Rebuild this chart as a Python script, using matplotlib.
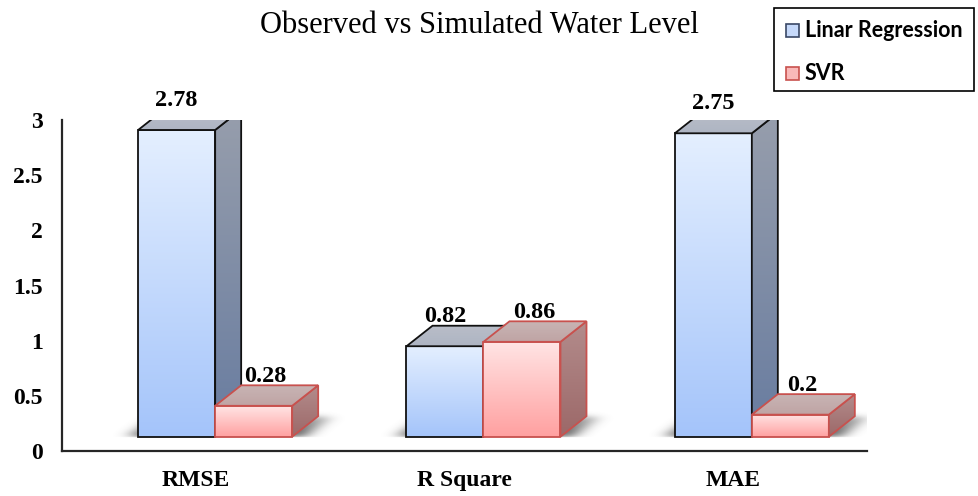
import numpy as np
import matplotlib
matplotlib.use("Agg")
import matplotlib.pyplot as plt
from matplotlib.patches import Polygon, Rectangle
from matplotlib.colors import LinearSegmentedColormap

# ---- data ----
categories = ["RMSE", "R Square", "MAE"]
series_names = ["Linar Regression", "SVR"]
linear_regression = [2.78, 0.82, 2.75]
svr = [0.28, 0.86, 0.2]
y_ticks = [0, 0.5, 1, 1.5, 2, 2.5, 3]
y_tick_labels = ["0", "0.5", "1", "1.5", "2", "2.5", "3"]

W, H = 979, 496
fig = plt.figure(figsize=(W / 100, H / 100), dpi=100)
ax_left, ax_bottom, ax_w, ax_h = 62, 45, 805, 331
ax = fig.add_axes([ax_left / W, ax_bottom / H, ax_w / W, ax_h / H])
xlim = (-0.5, 2.5)
ylim = (0, 3)

# pixel -> data unit conversions
px_x = (xlim[1] - xlim[0]) / ax_w
px_y = (ylim[1] - ylim[0]) / ax_h

bar_w = 77 * px_x
depth_x = 26 * px_x
depth_y = 20.5 * px_y
floor = 14.3 * px_y
shift = 19 * px_x

serif = "Liberation Serif"

styles = [
    dict(front=("#a4c4fa", "#e4efff"), side=("#687ca0", "#979eac"),
         top=("#aeb5c3", "#b9bdc8"), edge="#111111"),
    dict(front=("#ffa0a0", "#ffe4e4"), side=("#9c6868", "#b38c8c"),
         top=("#bfa4a4", "#c8b4b4"), edge="#c8514e"),
]

z = [2.0]


def gradient_poly(verts, bottom_color, top_color, edge):
    verts = np.asarray(verts)
    clip = Polygon(verts, closed=True, facecolor="none", edgecolor="none")
    ax.add_patch(clip)
    cmap = LinearSegmentedColormap.from_list("g", [bottom_color, top_color])
    im = ax.imshow(np.linspace(0, 1, 256)[:, None], cmap=cmap, origin="lower",
                   extent=[verts[:, 0].min(), verts[:, 0].max(),
                           verts[:, 1].min(), verts[:, 1].max()],
                   aspect="auto", interpolation="bilinear", zorder=z[0])
    im.set_clip_path(clip)
    ax.add_patch(Polygon(verts, closed=True, fill=False, edgecolor=edge,
                         linewidth=1.3, joinstyle="miter", zorder=z[0] + 0.05))
    z[0] += 0.1


def bar3d(x0, h, st):
    b = floor
    t = floor + h
    front = [(x0, b), (x0 + bar_w, b), (x0 + bar_w, t), (x0, t)]
    side = [(x0 + bar_w, b), (x0 + bar_w + depth_x, b + depth_y),
            (x0 + bar_w + depth_x, t + depth_y), (x0 + bar_w, t)]
    top = [(x0, t), (x0 + bar_w, t), (x0 + bar_w + depth_x, t + depth_y),
           (x0 + depth_x, t + depth_y)]
    gradient_poly(front, *st["front"], st["edge"])
    gradient_poly(side, *st["side"], st["edge"])
    gradient_poly(top, *st["top"], st["edge"])


# ---- soft floor shadows under each bar pair ----
res = 2
shadow_h = 50
nx, ny = ax_w * res, shadow_h * res
sx = np.linspace(xlim[0], xlim[1], nx)
sy = np.linspace(0, shadow_h * px_y, ny)
XX, YY = np.meshgrid(sx, sy)
mask = np.zeros_like(XX)
frac = (YY - floor) / depth_y
for i in range(len(categories)):
    x_left = i + shift - bar_w - 9 * px_x + frac * depth_x
    x_right = i + shift + bar_w + 12 * px_x + frac * depth_x
    inside = (XX >= x_left) & (XX <= x_right) & (frac >= 0) & (frac <= 1)
    mask[inside] = 1.0


def blur(a, sig, axis):
    r = int(3 * sig)
    k = np.exp(-0.5 * (np.arange(-r, r + 1) / sig) ** 2)
    k /= k.sum()
    return np.apply_along_axis(lambda v: np.convolve(v, k, mode="same"), axis, a)


mask = blur(mask, 8.0 * res, 1)
mask = blur(mask, 2.5 * res, 0)
mask *= np.clip(1.0 - 0.5 * np.clip(frac, 0, 1), 0, 1)
mask[YY < floor - 0.5 * px_y] = 0
shadow = np.zeros(mask.shape + (4,))
shadow[..., :3] = 0.3
shadow[..., 3] = np.clip(mask * 0.95, 0, 1)
ax.imshow(shadow, origin="lower", extent=[xlim[0], xlim[1], 0, shadow_h * px_y],
          aspect="auto", interpolation="bilinear", zorder=1)

# ---- bars ----
for i in range(len(categories)):
    boundary = i + shift
    bar3d(boundary - bar_w, linear_regression[i], styles[0])
    bar3d(boundary, svr[i], styles[1])

# ---- value labels ----
for i in range(len(categories)):
    boundary = i + shift
    for k, vals in enumerate([linear_regression, svr]):
        v = vals[i]
        cx = boundary - bar_w / 2 if k == 0 else boundary + bar_w / 2 + 12 * px_x
        ax.annotate(f"{v:g}", (cx, floor + v + depth_y), xytext=(0, 2.5),
                    textcoords="offset points", ha="center", va="baseline",
                    fontsize=17.5, fontweight="bold", family=serif,
                    annotation_clip=False, zorder=20)

# ---- axes styling ----
ax.set_xlim(*xlim)
ax.set_ylim(*ylim)
ax.set_xticks(range(len(categories)))
ax.set_xticklabels(categories, fontsize=17, fontweight="bold", family=serif)
ax.set_yticks(y_ticks)
ax.set_yticklabels(y_tick_labels, fontsize=17, fontweight="bold", family=serif)
ax.tick_params(axis="x", length=0, pad=14)
ax.tick_params(axis="y", length=0, pad=14)
for s in ["top", "right"]:
    ax.spines[s].set_visible(False)
for s in ["left", "bottom"]:
    ax.spines[s].set_color("#262626")
    ax.spines[s].set_linewidth(1.6)
ax.set_facecolor("none")

# ---- title ----
fig.text(479 / W, 1 - 33 / H, "Observed vs Simulated Water Level",
         ha="center", va="baseline", fontsize=22, family=serif)

# ---- legend ----
fig.patches.append(Rectangle((774 / W, 1 - 91 / H), 200 / W, 83 / H,
                             transform=fig.transFigure, fill=False,
                             edgecolor="black", linewidth=1.2))
legend_fc = ["#c6d9fa", "#f9b9b9"]
legend_ec = ["#3a4866", "#c8514e"]
legend_base = [37, 80]
for k, name in enumerate(series_names):
    yb = legend_base[k]
    fig.patches.append(Rectangle((786 / W, 1 - yb / H), 13 / W, 13 / H,
                                 transform=fig.transFigure,
                                 facecolor=legend_fc[k], edgecolor=legend_ec[k],
                                 linewidth=1.2))
    fig.text(805 / W, 1 - yb / H, name, ha="left", va="baseline",
             fontsize=15.5, fontweight="bold", family="Lato")

fig.savefig("out.png", dpi=100)
